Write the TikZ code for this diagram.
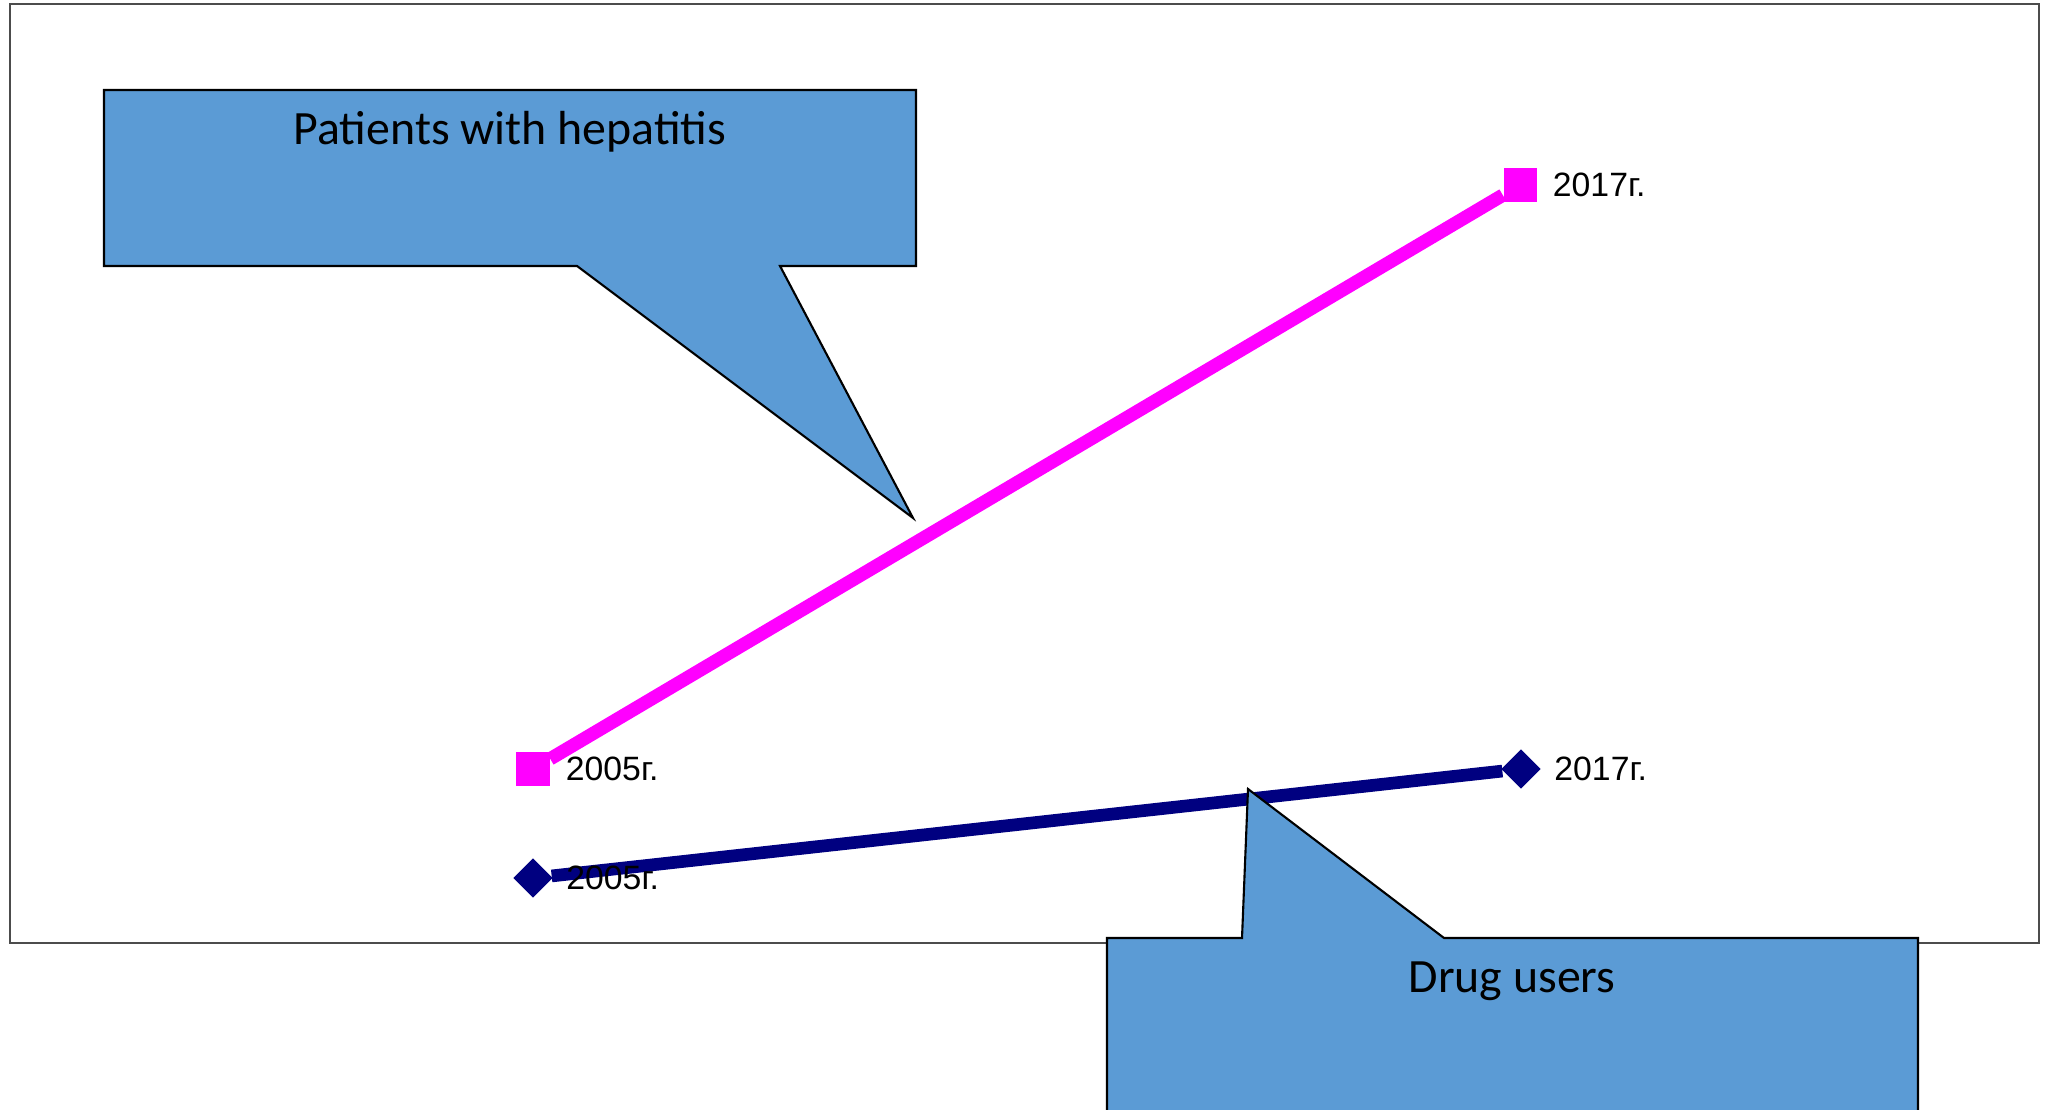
\documentclass[tikz,border=0pt]{standalone}
\usepackage{fontspec}
\setmainfont{Liberation Sans}
\newfontfamily\bubblefont{Carlito}
\usetikzlibrary{positioning,shapes.geometric}
\definecolor{bubbleblue}{HTML}{5B9BD5}
\definecolor{hepmagenta}{HTML}{FF00FF}
\definecolor{drugnavy}{HTML}{000080}
\tikzset{
	sqmark/.style={rectangle,fill=hepmagenta,minimum size=0.33cm,inner sep=0pt},
	dmmark/.style={diamond,fill=drugnavy,minimum size=0.40cm,inner sep=0pt},
	yearlbl/.style={inner sep=0pt,font=\fontsize{9.6pt}{11pt}\selectfont},
	bubble/.style={fill=bubbleblue,draw=black,line width=0.6pt,line join=miter},
	bubbletext/.style={inner sep=0pt,anchor=base,font=\bubblefont\fontsize{13.6pt}{16pt}\selectfont}
}
\begin{document}
\begin{tikzpicture}[x=0.01cm,y=-0.01cm]
	\useasboundingbox (0,0) rectangle (2046,1110);
	\clip (0,0) rectangle (2046,1110);
	\fill[white] (0,0) rectangle (2046,1110);
	\draw[black!70,line width=0.4pt] (10,4) rectangle (2039,943);
	
	\node[sqmark] (h05) at (533,769) {};
	\node[sqmark] (h17) at (1520,185) {};
	\node[dmmark] (d05) at (533,878) {};
	\node[dmmark] (d17) at (1521,769) {};
	\draw[hepmagenta,line width=3.8pt] (h05) -- (h17);
	\draw[drugnavy,line width=3.6pt] (d05) -- (d17);
	
	\node[yearlbl,right=0.15cm of h05] (h05l) {2005г.};
	\node[yearlbl,right=0.15cm of h17] (h17l) {2017г.};
	\node[yearlbl,right=0.12cm of d05] (d05l) {2005г.};
	\node[yearlbl,right=0.12cm of d17] (d17l) {2017г.};
	
	\draw[bubble] (104,90) -- (916,90) -- (916,266) -- (780,266) -- (913,518) -- (577,266) -- (104,266) -- cycle;
	\node[bubbletext] (hep) at (510,145) {Patients with hepatitis};
	\draw[bubble] (1107,938) -- (1242,938) -- (1248,789) -- (1444,938) -- (1918,938) -- (1918,1125) -- (1107,1125) -- cycle;
	\node[bubbletext] (drug) at (1512,992) {Drug users};
\end{tikzpicture}
\end{document}
